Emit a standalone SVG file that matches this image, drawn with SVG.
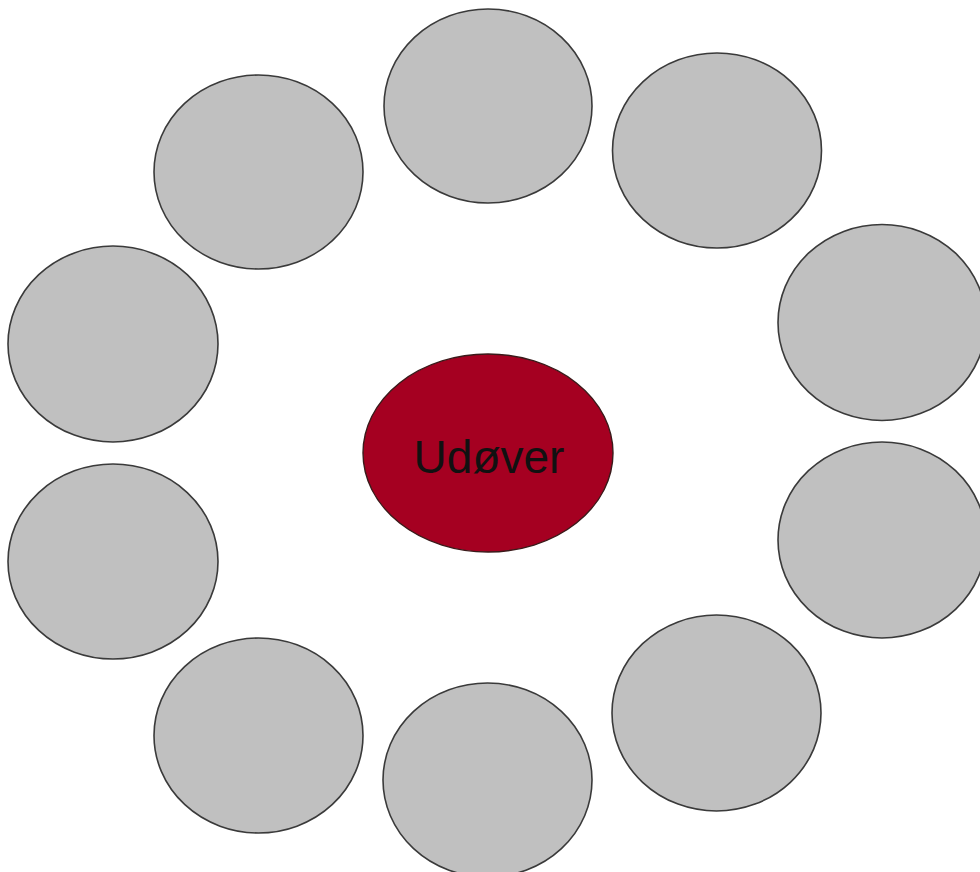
<svg xmlns="http://www.w3.org/2000/svg" width="980" height="872" viewBox="0 0 980 872">
<style>
.n{fill:#c0c0c0;stroke:#3a3a3a;stroke-width:1.6}
.c{fill:#a50021;stroke:#3a1a1a;stroke-width:1.4}
.t{font-family:"Liberation Sans",Arial,sans-serif;font-size:46px;fill:#111}
</style>
<rect width="980" height="872" fill="#fff"/>
<g id="connectors"></g>
<g id="n1"><ellipse class="n" cx="488" cy="106" rx="104" ry="97"/></g>
<g id="n2"><ellipse class="n" cx="717" cy="150.5" rx="104.5" ry="97.5"/></g>
<g id="n3"><ellipse class="n" cx="882" cy="322.5" rx="104" ry="98"/></g>
<g id="n4"><ellipse class="n" cx="882" cy="540" rx="104" ry="98"/></g>
<g id="n5"><ellipse class="n" cx="716.5" cy="713" rx="104.5" ry="98"/></g>
<g id="n6"><ellipse class="n" cx="487.5" cy="780" rx="104.5" ry="97"/></g>
<g id="n7"><ellipse class="n" cx="258.5" cy="735.5" rx="104.5" ry="97.5"/></g>
<g id="n8"><ellipse class="n" cx="113" cy="561.5" rx="105" ry="97.5"/></g>
<g id="n9"><ellipse class="n" cx="113" cy="344" rx="105" ry="98"/></g>
<g id="n10"><ellipse class="n" cx="258.5" cy="172" rx="104.5" ry="97"/></g>
<g id="center"><ellipse class="c" cx="488" cy="453" rx="125" ry="99"/><text class="t" x="489" y="473" text-anchor="middle">Udøver</text></g>
</svg>
